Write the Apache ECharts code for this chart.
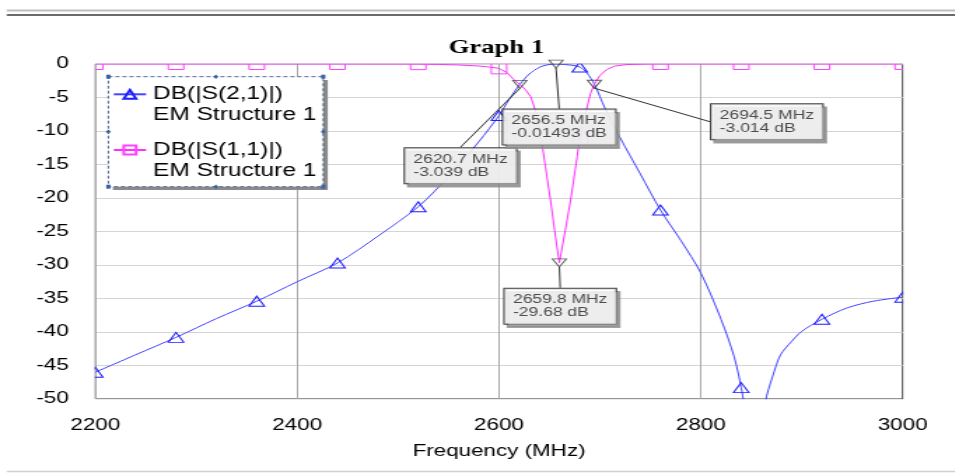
<!DOCTYPE html>
<html>
<head>
<meta charset="utf-8">
<title>Graph 1</title>
<script src="https://cdn.jsdelivr.net/npm/echarts@6/dist/echarts.min.js"></script>
<style>
  html, body { margin: 0; padding: 0; background: #fff; overflow: hidden; width: 955px; height: 476px; }
  /* the plot window is drawn narrow and stretched sideways, like the simulator's graph window */
  #chart { width: 682.143px; height: 476px; transform: scaleX(1.4); transform-origin: 0 0; }
</style>
</head>
<body>
<div id="chart"></div>
<script>
// ---- data ---------------------------------------------------------------
// |S21| in dB versus frequency in MHz
const s21Freq = [2200, 2240, 2280, 2320, 2360, 2400, 2440, 2480, 2520, 2550, 2580, 2600, 2610, 2620.7,
  2630, 2640, 2648, 2656.5, 2665, 2673, 2680, 2687, 2694.5, 2705, 2720, 2740, 2760, 2780, 2800, 2820,
  2833, 2840, 2845, 2850, 2855, 2860, 2864, 2871, 2879, 2890, 2900, 2920, 2945, 2971, 3000];
const s21Db = [-46.0, -43.4, -40.8, -38.0, -35.4, -32.5, -29.7, -25.7, -21.3, -16.8, -11.6, -7.7, -5.3, -3.039,
  -1.5, -0.5, -0.12, -0.015, -0.08, -0.2, -0.45, -1.3, -3.014, -6.6, -11.0, -16.4, -21.8, -26.3, -31.2, -38.1,
  -43.7, -48.3, -53, -60, -70, -60, -50.5, -46.7, -43.4, -41.4, -39.9, -38.1, -36.4, -35.4, -34.8];

// |S11| in dB versus frequency in MHz
const s11Freq = [2200, 2280, 2360, 2440, 2500, 2520, 2540, 2560, 2580, 2590, 2600, 2608, 2614.6, 2620.7,
  2626, 2631.5, 2636, 2641, 2646, 2651, 2656, 2659.8, 2664.5, 2671, 2677.5, 2680, 2684, 2690.7, 2694.5,
  2700, 2707, 2715, 2727, 2745, 2760, 2800, 2840, 2920, 3000];
const s11Db = [0, 0, 0, 0, -0.01, -0.02, -0.06, -0.15, -0.3, -0.45, -0.65, -1.3, -2.3, -3.04,
  -3.8, -4.9, -6.9, -10.3, -15.3, -20.3, -25.8, -29.68, -25.8, -20.3, -13.8, -11.0, -8.4, -4.4, -3.01,
  -1.7, -0.8, -0.3, -0.08, -0.02, 0, 0, 0, 0, 0];

// markers placed on the traces
const markerFreq = [2620.7, 2656.5, 2694.5, 2659.8];
const markerDb = [-3.039, -0.01493, -3.014, -29.68];

// texts and axis ranges
const chartTitle = 'Graph 1';
const seriesNames = ['DB(|S(2,1)|)', 'DB(|S(1,1)|)'];
const sourceName = 'EM Structure 1';
const xAxisTitle = 'Frequency (MHz)';
const xRange = [2200, 3000];
const xStep = 200;
const yRange = [-50, 0];
const yStep = 5;
const symbolStep = 80; // one trace symbol every 80 MHz

// ---- layout (chart pixels before the sideways stretch) ------------------
const G = { left: 68.07, top: 64, width: 576.7, height: 335 };
const GR = G.left + G.width, GB = G.top + G.height;
// marker label box: left edge and vertical centre, relative to the marker
const labelOffsets = [[-82.1, 81.3], [-37.8, 63], [83.5, 37.5], [-39.1, 43.4]];
const LEG = { x: 77.4, y: 76.7, w: 153.5, h: 110 };

const FONT = 'Liberation Sans';

function onSymbolGrid(f) { return Math.abs((f - xRange[0]) % symbolStep) < 1e-9; }
function traceData(freqs, dbs) {
  return freqs.map((f, i) => onSymbolGrid(f) ? [f, dbs[i]] : { value: [f, dbs[i]], symbol: 'none' });
}

// white strips just outside the plot frame, so trace symbols sitting on the edge are cut off
const masks = [
  { x: 52, y: 58, w: 610, h: 5.5 },
  { x: 52, y: 58, w: G.left - 0.5 - 52, h: 352 },
  { x: GR + 0.5, y: 58, w: 16, h: 352 },
  { x: 52, y: GB + 0.5, w: 610, h: 8 }
].map(m => ({ type: 'rect', z: 4, silent: true, shape: { x: m.x, y: m.y, width: m.w, height: m.h }, style: { fill: '#fff' } }));

// legend frame with its selection handles
const hx = [LEG.x, LEG.x + LEG.w / 2, LEG.x + LEG.w];
const hy = [LEG.y, LEG.y + LEG.h / 2, LEG.y + LEG.h];
const handles = [];
[[0, 0], [2, 0], [0, 2], [2, 2]].forEach(([i, j]) => handles.push({
  type: 'rect', z: 7, silent: true,
  shape: { x: hx[i] - 1.5, y: hy[j] - 2, width: 3, height: 4 }, style: { fill: '#3a5fa6' }
}));
[[1, 0], [1, 2], [0, 1], [2, 1]].forEach(([i, j]) => handles.push({
  type: 'polygon', z: 7, silent: true,
  shape: { points: [[hx[i] - 1.8, hy[j]], [hx[i], hy[j] - 2.3], [hx[i] + 1.8, hy[j]], [hx[i], hy[j] + 2.3]] },
  style: { fill: '#3a5fa6' }
}));

const chart = echarts.init(document.getElementById('chart'), null, { renderer: 'canvas' });

chart.setOption({
  animation: false,
  backgroundColor: '#fff',
  title: {
    text: chartTitle, left: 354.6, top: 39, padding: 0, textAlign: 'center', z: 20,
    textStyle: { fontFamily: 'Liberation Serif', fontWeight: 'bold', fontSize: 19, color: '#000' }
  },
  grid: {
    left: G.left, top: G.top, width: G.width, height: G.height,
    show: true, backgroundColor: '#fff', borderColor: '#2a2a2a', borderWidth: 1,
    containLabel: false, outerBoundsMode: 'none'
  },
  legend: {
    orient: 'vertical', left: 80.3, top: 62.8, padding: 0, itemGap: -7.3,
    itemWidth: 23, itemHeight: 11, selectedMode: false, z: 8,
    data: seriesNames,
    // empty first line keeps the series name level with its icon
    formatter: name => '\n' + name + '\n' + sourceName,
    textStyle: { fontFamily: FONT, fontSize: 17.5, lineHeight: 21, color: '#000' }
  },
  xAxis: {
    type: 'value', min: xRange[0], max: xRange[1], interval: xStep,
    name: xAxisTitle, nameLocation: 'middle', nameGap: 45,
    nameTextStyle: { fontFamily: FONT, fontSize: 16, color: '#000' },
    axisLine: { show: false }, axisTick: { show: false },
    axisLabel: { margin: 19, fontFamily: FONT, fontSize: 16, color: '#000', formatter: v => String(v) },
    splitLine: { show: true, lineStyle: { color: '#a8a8a8', width: 1 } }
  },
  yAxis: {
    type: 'value', min: yRange[0], max: yRange[1], interval: yStep,
    axisLine: { show: false }, axisTick: { show: false },
    axisLabel: { margin: 19, fontFamily: FONT, fontSize: 16, color: '#000', padding: [4, 0, 0, 0], formatter: v => String(v) },
    splitLine: { show: true, lineStyle: { color: '#d4d4d4', width: 1 } }
  },
  graphic: [
    { type: 'line', silent: true, shape: { x1: 4.8, y1: 10.5, x2: 682.2, y2: 10.5 }, style: { stroke: '#bdbdbd', lineWidth: 2 } },
    { type: 'line', silent: true, shape: { x1: 4.8, y1: 15, x2: 682.2, y2: 15 }, style: { stroke: '#6a6a6a', lineWidth: 2 } },
    { type: 'line', silent: true, shape: { x1: 4.8, y1: 471.5, x2: 682.2, y2: 471.5 }, style: { stroke: '#d0d0d0', lineWidth: 1.5 } },
    ...masks,
    { type: 'rect', z: 5, silent: true, shape: { x: LEG.x + 3.2, y: LEG.y + 3.3, width: LEG.w, height: LEG.h }, style: { fill: '#8a8a8a' } },
    { type: 'rect', z: 6, silent: true, shape: { x: LEG.x, y: LEG.y, width: LEG.w, height: LEG.h },
      style: { fill: '#fff', stroke: '#4f6690', lineWidth: 1, lineDash: [3, 2] } },
    ...handles
  ],
  series: [
    {
      name: seriesNames[0], type: 'line', z: 2,
      data: traceData(s21Freq, s21Db),
      smooth: 0.3,
      symbol: 'triangle', symbolSize: [11, 10], showAllSymbol: true,
      lineStyle: { color: '#4444ff', width: 1 },
      itemStyle: { color: 'rgba(255,255,255,0)', borderColor: '#1c1cff', borderWidth: 1 },
      emphasis: { disabled: true }, silent: true
    },
    {
      name: seriesNames[1], type: 'line', z: 3,
      data: traceData(s11Freq, s11Db),
      symbol: 'rect', symbolSize: [11, 11], showAllSymbol: true,
      lineStyle: { color: '#ff30ff', width: 1 },
      itemStyle: { color: 'rgba(255,255,255,0)', borderColor: '#ff40ff', borderWidth: 1 },
      emphasis: { disabled: true }, silent: true
    },
    {
      type: 'scatter', z: 10, silent: true,
      data: markerFreq.map((f, i) => [f, markerDb[i]]),
      symbol: 'triangle', symbolRotate: 180, symbolSize: [10, 8],
      itemStyle: { color: 'rgba(0,0,0,0)', borderColor: '#3a3a3a', borderWidth: 1 },
      emphasis: { disabled: true },
      label: {
        show: true, position: 'inside', align: 'left', verticalAlign: 'middle',
        formatter: p => p.value[0] + ' MHz\n' + p.value[1] + ' dB',
        fontFamily: FONT, fontSize: 12.5, lineHeight: 13, color: '#222',
        backgroundColor: '#fff', borderColor: '#111', borderWidth: 1, padding: [5, 6, 4, 6],
        shadowColor: '#8c8c8c', shadowOffsetX: 2.4, shadowOffsetY: 3.3, shadowBlur: 0
      },
      labelLayout: p => ({ dx: labelOffsets[p.dataIndex][0], dy: labelOffsets[p.dataIndex][1] }),
      labelLine: { show: true, lineStyle: { color: '#333', width: 1 } }
    }
  ]
});
</script>
</body>
</html>
